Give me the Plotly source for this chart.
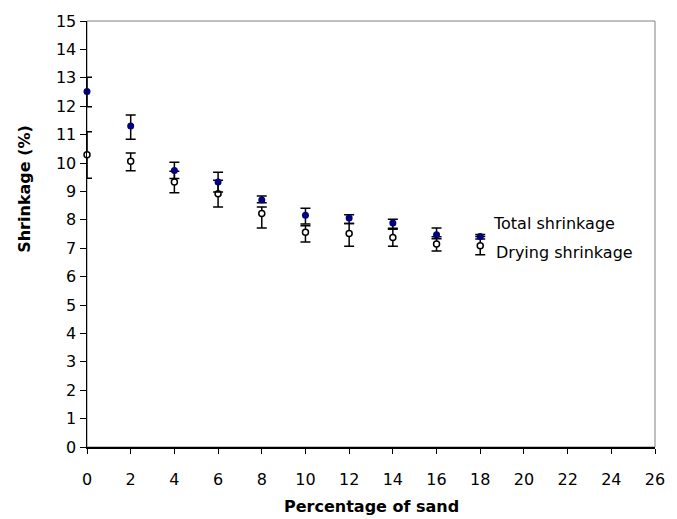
import plotly.graph_objects as go

# ---- data ----
sand_pct = [0, 2, 4, 6, 8, 10, 12, 14, 16, 18]

total_shrinkage = [12.52, 11.30, 9.74, 9.33, 8.70, 8.16, 8.06, 7.89, 7.47, 7.41]
total_err_plus = [0.50, 0.39, 0.29, 0.34, 0.14, 0.25, 0.12, 0.13, 0.24, 0.07]
total_err_minus = [0.54, 0.46, 0.29, 0.35, 0.10, 0.31, 0.19, 0.22, 0.14, 0.09]

drying_shrinkage = [10.29, 10.06, 9.33, 8.92, 8.22, 7.56, 7.52, 7.38, 7.15, 7.09]
drying_err_plus = [0.81, 0.29, 0.38, 0.47, 0.23, 0.23, 0.35, 0.32, 0.25, 0.32]
drying_err_minus = [0.83, 0.33, 0.38, 0.47, 0.51, 0.34, 0.45, 0.31, 0.25, 0.32]

x_ticks = list(range(0, 27, 2))
y_ticks = list(range(0, 16, 1))

series_labels = ["Total shrinkage", "Drying shrinkage"]
x_title = "Percentage of sand"
y_title = "Shrinkage (%)"

FONT = "DejaVu Sans, Liberation Sans, Arial, sans-serif"

fig = go.Figure()

fig.add_trace(go.Scatter(
    x=sand_pct, y=drying_shrinkage, mode="markers", name=series_labels[1],
    marker=dict(size=6, color="white", line=dict(color="black", width=1.5)),
    error_y=dict(type="data", symmetric=False, array=drying_err_plus,
                 arrayminus=drying_err_minus, color="black", thickness=1.5, width=5),
    cliponaxis=False, showlegend=False,
))
fig.add_trace(go.Scatter(
    x=sand_pct, y=total_shrinkage, mode="markers", name=series_labels[0],
    marker=dict(size=7, color="#000080", line=dict(width=0)),
    error_y=dict(type="data", symmetric=False, array=total_err_plus,
                 arrayminus=total_err_minus, color="black", thickness=1.5, width=5),
    cliponaxis=False, showlegend=False,
))

# plot-area frame (thin grey on top/right)
fig.add_shape(type="rect", xref="paper", yref="paper", x0=0, y0=0, x1=1, y1=1,
              line=dict(color="#808080", width=1), layer="below")

# series labels next to the last points
fig.add_annotation(x=sand_pct[-1], y=total_shrinkage[-1], xref="x", yref="y",
                   text=series_labels[0], showarrow=False, xanchor="left",
                   xshift=11, yshift=13, font=dict(family=FONT, size=16, color="black"))
fig.add_annotation(x=sand_pct[-1], y=drying_shrinkage[-1], xref="x", yref="y",
                   text=series_labels[1], showarrow=False, xanchor="left",
                   xshift=14, yshift=-7, font=dict(family=FONT, size=16, color="black"))

# axis titles
fig.add_annotation(x=0.5, y=-0.14, xref="paper", yref="paper", text="<b>%s</b>" % x_title,
                   showarrow=False, xanchor="center", yanchor="middle",
                   font=dict(family=FONT, size=16, color="black"))
fig.add_annotation(x=-0.11, y=0.605, xref="paper", yref="paper", text="<b>%s</b>" % y_title,
                   showarrow=False, textangle=-90, xanchor="center", yanchor="middle",
                   font=dict(family=FONT, size=16, color="black"))

fig.update_layout(
    width=677, height=519,
    margin=dict(l=87, r=13, t=17, b=72),
    paper_bgcolor="white", plot_bgcolor="white",
    font=dict(family=FONT, size=16, color="black"),
    showlegend=False,
    xaxis=dict(range=[0, 26], tickvals=x_ticks, ticktext=[str(v) for v in x_ticks],
               showgrid=False, zeroline=False, showline=True, linecolor="black",
               linewidth=2, ticks="outside", ticklen=5, tickwidth=1, tickcolor="black",
               ticklabelstandoff=12, tickfont=dict(family=FONT, size=16)),
    yaxis=dict(range=[0, 15], tickvals=y_ticks, ticktext=[str(v) for v in y_ticks],
               showgrid=False, zeroline=False, showline=True, linecolor="black",
               linewidth=1.5, ticks="outside", ticklen=6, tickwidth=1, tickcolor="black",
               tickfont=dict(family=FONT, size=16)),
)

fig.write_html(
    "out.html",
    config={"displayModeBar": False, "staticPlot": True},
    post_script="document.body.style.margin='0';document.body.style.padding='0';"
                "document.documentElement.style.overflow='hidden';",
)
